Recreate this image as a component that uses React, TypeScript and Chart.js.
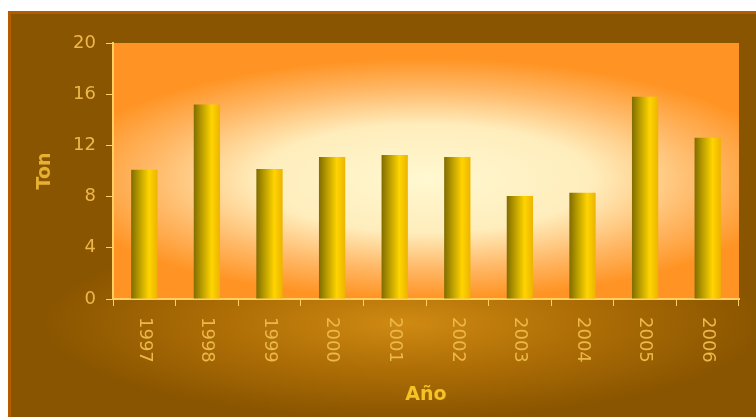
import React, { useEffect, useRef } from "react";
import { Chart, registerables } from "chart.js";

Chart.register(...registerables);

const years = ["1997", "1998", "1999", "2000", "2001", "2002", "2003", "2004", "2005", "2006"];
const tons = [10.1, 15.2, 10.15, 11.1, 11.25, 11.1, 8.05, 8.3, 15.8, 12.6];
const yMin = 0;
const yMax = 20;
const yStep = 4;
const yTitle = "Ton";
const xTitle = "Año";

const FONT = '"DejaVu Sans", Verdana, sans-serif';
const TICK_COLOR = "#EDB84A";
const AXIS_COLOR = "#FFD060";

function ellipseGradient(ctx: any, cx: number, cy: number, rx: number, ry: number, stops: [number, string][], rect: number[]) {
  ctx.save();
  ctx.beginPath();
  ctx.rect(rect[0], rect[1], rect[2], rect[3]);
  ctx.clip();
  ctx.fillStyle = stops[stops.length - 1][1];
  ctx.fillRect(rect[0], rect[1], rect[2], rect[3]);
  ctx.translate(cx, cy);
  ctx.scale(1, ry / rx);
  const g = ctx.createRadialGradient(0, 0, 0, 0, 0, rx);
  stops.forEach(([o, c]) => g.addColorStop(o, c));
  ctx.fillStyle = g;
  ctx.beginPath();
  ctx.arc(0, 0, rx, 0, Math.PI * 2);
  ctx.fill();
  ctx.restore();
}

const backgroundPlugin = {
  id: "bgPlugin",
  beforeDraw(chart: any) {
    const { ctx, width, height, chartArea } = chart;
    // outer panel
    ellipseGradient(
      ctx,
      395,
      312,
      360,
      95,
      [
        [0, "#CF8A12"],
        [0.5, "#AE6E06"],
        [1, "#8A5500"],
      ],
      [0, 0, width, height]
    );
    ctx.save();
    ctx.fillStyle = "#B45C00";
    ctx.fillRect(0, 0, width, 3);
    ctx.fillRect(0, 0, 3, height);
    ctx.restore();
    // plot area
    const { left, top, right, bottom } = chartArea;
    const cx = left + (right - left) * 0.5;
    const cy = top + (bottom - top) * 0.53;
    ellipseGradient(
      ctx,
      cx,
      cy,
      370,
      120,
      [
        [0, "#FFF8D0"],
        [0.45, "#FFEDBC"],
        [0.75, "#FFB866"],
        [1, "#FF9424"],
      ],
      [left, top, right - left, bottom - top]
    );
  },
};

const xLabelPlugin = {
  id: "xLabels",
  afterDraw(chart: any) {
    const { ctx, chartArea } = chart;
    const xs = chart.scales.x;
    ctx.save();
    ctx.font = "18px " + FONT;
    ctx.fillStyle = TICK_COLOR;
    ctx.textAlign = "left";
    ctx.textBaseline = "middle";
    years.forEach((lab, i) => {
      const px = xs.getPixelForValue(i);
      ctx.save();
      ctx.translate(px, chartArea.bottom + 18);
      ctx.rotate(Math.PI / 2);
      ctx.fillText(lab, 0, 0);
      ctx.restore();
    });
    ctx.restore();
  },
};

const BAR_FRACTION = 0.42;

export default function App() {
  const ref = useRef<HTMLCanvasElement | null>(null);
  useEffect(() => {
    if (!ref.current) return;
    const chart = new Chart(ref.current, {
      type: "bar",
      data: {
        labels: years,
        datasets: [
          {
            label: yTitle,
            data: tons,
            barPercentage: BAR_FRACTION,
            categoryPercentage: 1,
            borderWidth: 0,
            backgroundColor: (c: any) => {
              const chart = c.chart;
              const xs = chart.scales && chart.scales.x;
              if (!xs || c.dataIndex === undefined || !xs.width) return "#F0C000";
              const cx = xs.getPixelForValue(c.dataIndex);
              const w = (xs.width / years.length) * BAR_FRACTION;
              const g = chart.ctx.createLinearGradient(cx - w / 2, 0, cx + w / 2, 0);
              g.addColorStop(0, "#806C00");
              g.addColorStop(0.3, "#B89C00");
              g.addColorStop(0.68, "#FFD400");
              g.addColorStop(1, "#ECB400");
              return g;
            },
          },
        ],
      },
      options: {
        animation: false,
        responsive: true,
        maintainAspectRatio: false,
        layout: { padding: { left: 0, top: 32, right: 17, bottom: 0 } },
        plugins: {
          legend: { display: false },
          tooltip: { enabled: false },
        },
        font: { family: FONT },
        scales: {
          x: {
            afterFit: (s: any) => {
              s.height = 118;
            },
            grid: {
              drawOnChartArea: false,
              drawTicks: true,
              tickLength: 7,
              color: AXIS_COLOR,
              offset: true,
            },
            border: { display: true, color: AXIS_COLOR, width: 2 },
            ticks: { display: false },
            title: {
              display: true,
              text: xTitle,
              color: "#F4C326",
              font: { family: FONT, size: 19, weight: "bold" },
              padding: { top: 0, bottom: 11 },
            },
          },
          y: {
            min: yMin,
            max: yMax,
            afterFit: (s: any) => {
              s.width = 105;
            },
            grid: {
              drawOnChartArea: false,
              drawTicks: true,
              tickLength: 7,
              color: AXIS_COLOR,
            },
            border: { display: true, color: AXIS_COLOR, width: 2 },
            ticks: {
              stepSize: yStep,
              padding: 10,
              color: TICK_COLOR,
              font: { family: FONT, size: 18 },
            },
            title: {
              display: true,
              text: yTitle,
              color: "#E8B030",
              font: { family: FONT, size: 19, weight: "bold" },
              padding: { top: 26, bottom: 0 },
            },
          },
        },
      } as any,
      plugins: [backgroundPlugin, xLabelPlugin],
    });
    return () => chart.destroy();
  }, []);
  return (
    <div style={{ position: "absolute", left: 8, top: 11, width: 748, height: 406 }}>
      <canvas ref={ref} />
    </div>
  );
}
